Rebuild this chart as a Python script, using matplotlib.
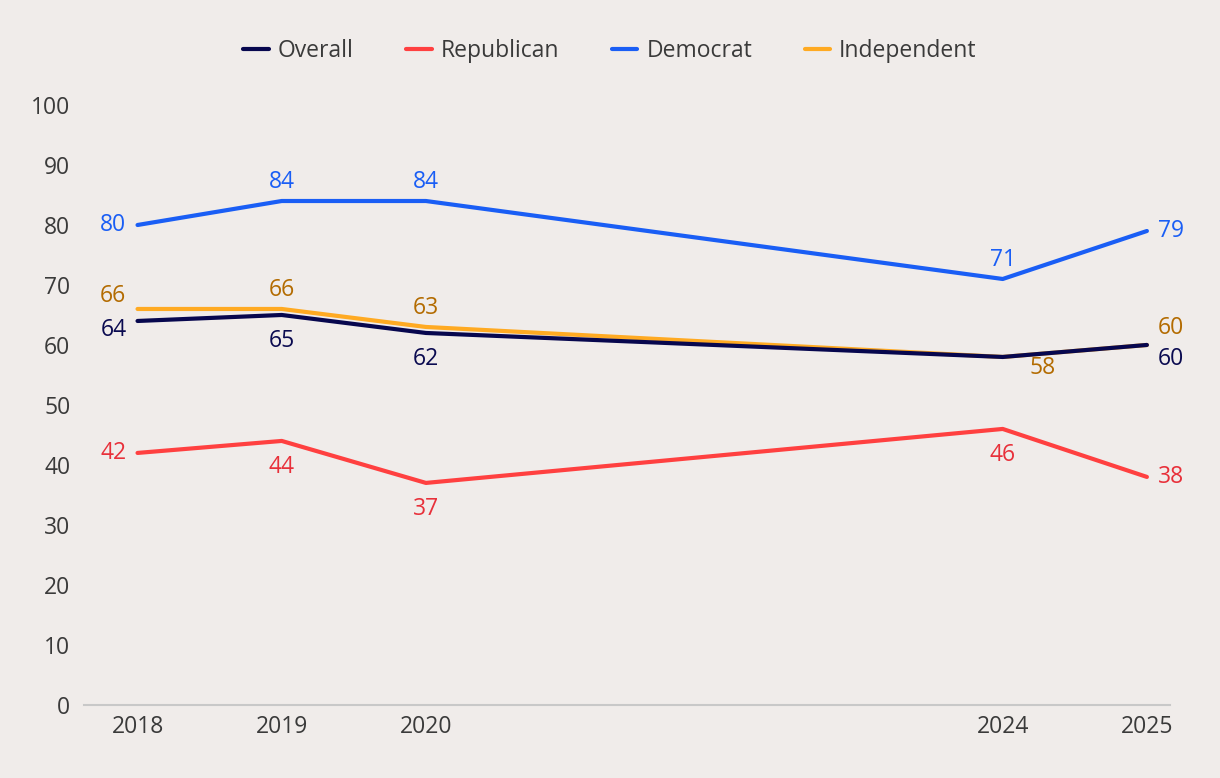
import matplotlib
matplotlib.use('Agg')
from matplotlib import pyplot as plt

years = [2018, 2019, 2020, 2024, 2025]
overall = [64, 65, 62, 58, 60]
republican = [42, 44, 37, 46, 38]
democrat = [80, 84, 84, 71, 79]
independent = [66, 66, 63, 58, 60]

plt.rcParams['font.family'] = ['Open Sans', 'DejaVu Sans']

bg = '#f0ecea'
fs = 16.5
fig = plt.figure(figsize=(12.2, 7.78), dpi=100, facecolor=bg)
ax = fig.add_axes([0.069, 0.094, 0.89, 0.771], facecolor=bg)

# (name, values, line colour, label colour, label placement per point)
series = [
    ('Overall', overall, '#07074e', '#0a0a50',
     ['left_below', 'below', 'below', None, 'right_below']),
    ('Republican', republican, '#ff4040', '#e8303a',
     ['left', 'below', 'below', 'below', 'right']),
    ('Democrat', democrat, '#1a5ef5', '#1a5ef5',
     ['left', 'above', 'above', 'above', 'right']),
    ('Independent', independent, '#ffaa22', '#b36b00',
     ['left_above', 'above', 'above', 'below_right', 'right_above']),
]

offsets = {
    'left': (-8, 0, 'right', 'center'),
    'right': (8, 0, 'left', 'center'),
    'above': (0, 5, 'center', 'bottom'),
    'below': (0, -10, 'center', 'top'),
    'left_below': (-8, -6.5, 'right', 'center'),
    'left_above': (-8, 9, 'right', 'center'),
    'right_below': (8, -10, 'left', 'center'),
    'right_above': (8, 12, 'left', 'center'),
    'below_right': (29, -8, 'center', 'center'),
}

# Independent first so Overall sits on top
order = [3, 0, 1, 2]
handles = {}
for i in order:
    name, vals, lc, tc, pos = series[i]
    ln, = ax.plot(years, vals, color=lc, lw=3, label=name, zorder=3 if i == 0 else 2,
                  solid_capstyle='round', solid_joinstyle='round')
    handles[name] = ln
    for x, y, p in zip(years, vals, pos):
        if p is None:
            continue
        dx, dy, ha, va = offsets[p]
        ax.annotate(str(y), (x, y), xytext=(dx, dy), textcoords='offset points',
                    ha=ha, va=va, color=tc, fontsize=fs)

ax.set_xlim(2017.63, 2025.16)
ax.set_ylim(0, 100)
ax.set_yticks(range(0, 101, 10))
ax.set_xticks(years)
ax.tick_params(axis='both', length=0, labelsize=fs, colors='#3a3a3a')
ax.tick_params(axis='y', pad=10)
ax.tick_params(axis='x', pad=7)
for s in ['top', 'right', 'left']:
    ax.spines[s].set_visible(False)
ax.spines['bottom'].set_color('#c8c8c8')
ax.spines['bottom'].set_linewidth(1.5)

names = ['Overall', 'Republican', 'Democrat', 'Independent']
leg = fig.legend([handles[n] for n in names], names, loc='center', ncol=4,
                 bbox_to_anchor=(0.5, 0.935), frameon=False, fontsize=fs,
                 handlelength=1.1, handletextpad=0.4, columnspacing=2.3,
                 labelcolor='#3a3a3a')

fig.savefig('out.png', dpi=100, facecolor=bg)
